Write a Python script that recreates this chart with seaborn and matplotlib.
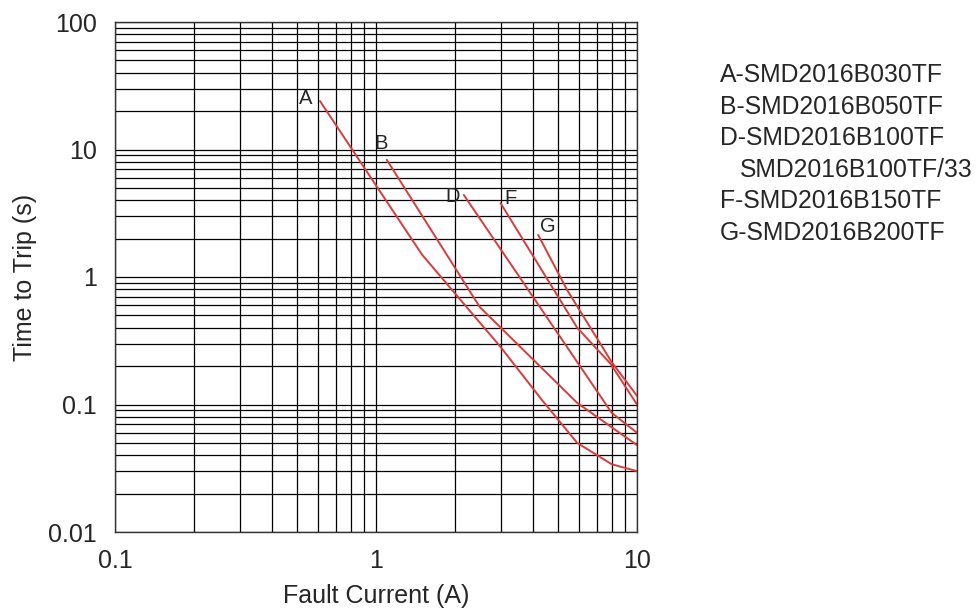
import numpy as np
import pandas as pd
import seaborn as sns
import matplotlib
matplotlib.use("Agg")
import matplotlib.pyplot as plt
from matplotlib.ticker import FixedLocator, NullFormatter, LogLocator

# trip curves (current in A, time in s)
curve_a_i = [0.61, 1.5, 3.0, 4.33, 5.9, 8.0, 10.0]
curve_a_t = [24.0, 1.5, 0.283, 0.108, 0.050, 0.034, 0.030]
curve_b_i = [1.10, 2.5, 5.9, 10.0]
curve_b_t = [8.3, 0.58, 0.103, 0.048]
curve_d_i = [2.17, 8.0, 10.0]
curve_d_t = [4.4, 0.086, 0.060]
curve_f_i = [3.0, 5.9, 7.9, 10.0]
curve_f_t = [3.8, 0.40, 0.21, 0.10]
curve_g_i = [4.18, 5.4, 8.0, 10.0]
curve_g_t = [2.14, 0.79, 0.215, 0.117]

curve_names = ["A", "B", "D", "F", "G"]
label_offsets = [(-10, 2), (-4, 12), (-8, -1), (7, 3), (7, 6)]
legend_lines = ["A-SMD2016B030TF", "B-SMD2016B050TF", "D-SMD2016B100TF",
                "SMD2016B100TF/33", "F-SMD2016B150TF", "G-SMD2016B200TF"]

x_ticks = [0.1, 1, 10]
x_tick_labels = ["0.1", "1", "10"]
y_ticks = [0.01, 0.1, 1, 10, 100]
y_tick_labels = ["0.01", "0.1", "1", "10", "100"]

curves = {
    "A": (curve_a_i, curve_a_t),
    "B": (curve_b_i, curve_b_t),
    "D": (curve_d_i, curve_d_t),
    "F": (curve_f_i, curve_f_t),
    "G": (curve_g_i, curve_g_t),
}
df = pd.concat(
    [pd.DataFrame({"current": c[0], "time": c[1], "curve": k}) for k, c in curves.items()],
    ignore_index=True,
)

sns.set_style("white")
plt.rcParams["font.family"] = ["Liberation Sans", "DejaVu Sans"]

fig = plt.figure(figsize=(9.77, 6.12), dpi=100)
ax = fig.add_axes([115 / 977, 80 / 612, 522 / 977, 510 / 612])

red = "#d83c3c"
sns.lineplot(data=df, x="current", y="time", hue="curve", palette=[red] * 5,
             sort=False, estimator=None, legend=False, linewidth=1.4, ax=ax)

ax.set_xscale("log")
ax.set_yscale("log")
ax.set_xlim(0.1, 10)
ax.set_ylim(0.01, 100)

ax.xaxis.set_major_locator(FixedLocator(x_ticks))
ax.set_xticklabels(x_tick_labels)
ax.yaxis.set_major_locator(FixedLocator(y_ticks))
ax.set_yticklabels(y_tick_labels)
ax.xaxis.set_minor_locator(LogLocator(base=10, subs=np.arange(2, 10)))
ax.yaxis.set_minor_locator(LogLocator(base=10, subs=np.arange(2, 10)))
ax.xaxis.set_minor_formatter(NullFormatter())
ax.yaxis.set_minor_formatter(NullFormatter())

ax.grid(True, which="both", color="black", linewidth=0.9)
ax.tick_params(which="major", direction="out", length=9, width=0.9,
               color="#555555", labelsize=18, pad=4)
ax.tick_params(which="minor", length=0)
ax.tick_params(axis="x", pad=3)
for s in ax.spines.values():
    s.set_color("#333333")
    s.set_linewidth(1.0)

ax.set_xlabel("Fault Current (A)", fontsize=18, labelpad=8)
ax.set_ylabel("Time to Trip (s)", fontsize=18, labelpad=8)

for name, off in zip(curve_names, label_offsets):
    i, t = curves[name]
    ax.annotate(name, (i[0], t[0]), xytext=off, textcoords="offset points",
                ha="center", va="center", fontsize=14.5)

for k, line in enumerate(legend_lines):
    x0 = 740 if "-" not in line else 720
    fig.text(x0 / 977, 1 - (75 + k * 31.6) / 612, line, fontsize=17.8,
             va="center", ha="left")

fig.savefig("out.png", dpi=100)
